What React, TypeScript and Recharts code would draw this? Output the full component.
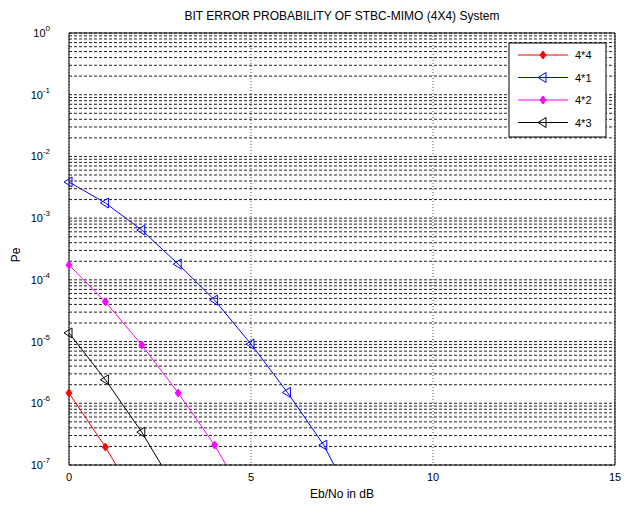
import React from 'react';
import { LineChart, Line, XAxis, YAxis, CartesianGrid, ReferenceLine } from 'recharts';

// Eb/No in dB
const snr = [0, 1, 2, 3, 4, 5, 6, 7, 8];

// bit error probability (points past 1e-7 only give the line its slope to the edge)
const pe44 = [1.47e-6, 1.95e-7, 2.0e-8, null, null, null, null, null, null];
const pe41 = [3.85e-3, 1.76e-3, 6.4e-4, 1.8e-4, 4.7e-5, 9.1e-6, 1.5e-6, 2.1e-7, 1.5e-8];
const pe42 = [1.74e-4, 4.4e-5, 8.8e-6, 1.47e-6, 2.1e-7, 2.0e-8, null, null, null];
const pe43 = [1.38e-5, 2.4e-6, 3.4e-7, 3.5e-8, null, null, null, null, null];

const xTicks = [0, 5, 10, 15];
const decades = [-7, -6, -5, -4, -3, -2, -1];
const mantissas = [1, 2, 3, 4, 5, 6, 7, 8, 9];
const yTicks = [...decades.flatMap((d) => mantissas.map((m) => m * Math.pow(10, d))), 1];

const seriesNames = ['4*4', '4*1', '4*2', '4*3'];

const data = snr.map((x, i) => ({
  snr: x,
  pe44: pe44[i],
  pe41: pe41[i],
  pe42: pe42[i],
  pe43: pe43[i],
}));

const FONT = '"Liberation Sans", Arial, sans-serif';

function Diamond({ cx, cy, color }: any) {
  if (cx == null || cy == null) return null;
  return (
    <path
      d={`M${cx - 3},${cy} L${cx},${cy - 4} L${cx + 3},${cy} L${cx},${cy + 4} Z`}
      fill={color}
      stroke={color}
      strokeWidth={1}
    />
  );
}

function LeftTri({ cx, cy, color }: any) {
  if (cx == null || cy == null) return null;
  return (
    <path
      d={`M${cx - 5},${cy} L${cx + 3},${cy - 5} L${cx + 3},${cy + 5} Z`}
      fill="none"
      stroke={color}
      strokeWidth={1}
    />
  );
}

function YTick({ x, y, payload }: any) {
  const v = payload.value;
  const e = Math.round(Math.log10(v));
  if (Math.abs(v - Math.pow(10, e)) / v > 1e-6) return null;
  return (
    <text x={x - 11} y={y + 4} textAnchor="end" fontFamily={FONT} fontSize={11} fill="#000">
      <tspan>10</tspan>
      <tspan dy={-6} fontSize={8}>{e}</tspan>
    </text>
  );
}

function Legend4() {
  const left = 509;
  const top = 43;
  const rows = [
    { name: seriesNames[0], color: '#ff0000', kind: 'd' },
    { name: seriesNames[1], color: '#0000ff', kind: 't' },
    { name: seriesNames[2], color: '#ff00ff', kind: 'd' },
    { name: seriesNames[3], color: '#000000', kind: 't' },
  ];
  return (
    <g>
      <rect x={left} y={top} width={97} height={94} fill="#fff" stroke="#000" strokeWidth={1} />
      {rows.map((r, i) => {
        const y = top + 12 + i * 22.5;
        return (
          <g key={r.name}>
            <line x1={left + 9} x2={left + 59} y1={y} y2={y} stroke={r.color} strokeWidth={1} />
            {r.kind === 'd' ? (
              <Diamond cx={left + 34} cy={y} color={r.color} />
            ) : (
              <LeftTri cx={left + 34} cy={y} color={r.color} />
            )}
            <text x={left + 66} y={y + 4} fontFamily={FONT} fontSize={11} fill="#000">
              {r.name}
            </text>
          </g>
        );
      })}
    </g>
  );
}

export default function App() {
  return (
    <div style={{ position: 'absolute', left: 0, top: 0, background: '#fff' }}>
      <LineChart width={636} height={510} data={data} margin={{ top: 33, right: 21, left: 19, bottom: 15 }}>
        <CartesianGrid vertical={false} stroke="#222" strokeDasharray="3 2" />
        <CartesianGrid horizontal={false} stroke="#555" strokeDasharray="1 2" />
        <XAxis
          dataKey="snr"
          type="number"
          domain={[0, 15]}
          ticks={xTicks}
          tickLine={false}
          axisLine={{ stroke: '#000' }}
          tick={{ fontFamily: FONT, fontSize: 11, fill: '#000' }}
          height={30}
        />
        <YAxis
          scale="log"
          domain={[1e-7, 1]}
          allowDataOverflow
          ticks={yTicks}
          interval={0}
          tickLine={false}
          axisLine={{ stroke: '#000' }}
          tick={<YTick />}
          width={50}
        />
        <ReferenceLine y={1} stroke="#000" />
        <ReferenceLine x={15} stroke="#000" />
        <Line
          dataKey="pe44"
          stroke="#ff0000"
          strokeWidth={1}
          dot={(p: any) => <Diamond key={`a${p.index}`} cx={p.cx} cy={p.cy} color="#ff0000" />}
          isAnimationActive={false}
        />
        <Line
          dataKey="pe41"
          stroke="#0000ff"
          strokeWidth={1}
          dot={(p: any) => <LeftTri key={`b${p.index}`} cx={p.cx} cy={p.cy} color="#0000ff" />}
          isAnimationActive={false}
        />
        <Line
          dataKey="pe42"
          stroke="#ff00ff"
          strokeWidth={1}
          dot={(p: any) => <Diamond key={`c${p.index}`} cx={p.cx} cy={p.cy} color="#ff00ff" />}
          isAnimationActive={false}
        />
        <Line
          dataKey="pe43"
          stroke="#000000"
          strokeWidth={1}
          dot={(p: any) => <LeftTri key={`d${p.index}`} cx={p.cx} cy={p.cy} color="#000000" />}
          isAnimationActive={false}
        />
        <Legend4 />
        <text x={342} y={20} textAnchor="middle" fontFamily={FONT} fontSize={12} fill="#000">
          BIT ERROR PROBABILITY OF STBC-MIMO (4X4) System
        </text>
        <text x={20} y={255} textAnchor="middle" fontFamily={FONT} fontSize={12} fill="#000" transform="rotate(-90 20 255)">
          Pe
        </text>
        <text x={342} y={498} textAnchor="middle" fontFamily={FONT} fontSize={12} fill="#000">
          Eb/No in dB
        </text>
      </LineChart>
    </div>
  );
}
